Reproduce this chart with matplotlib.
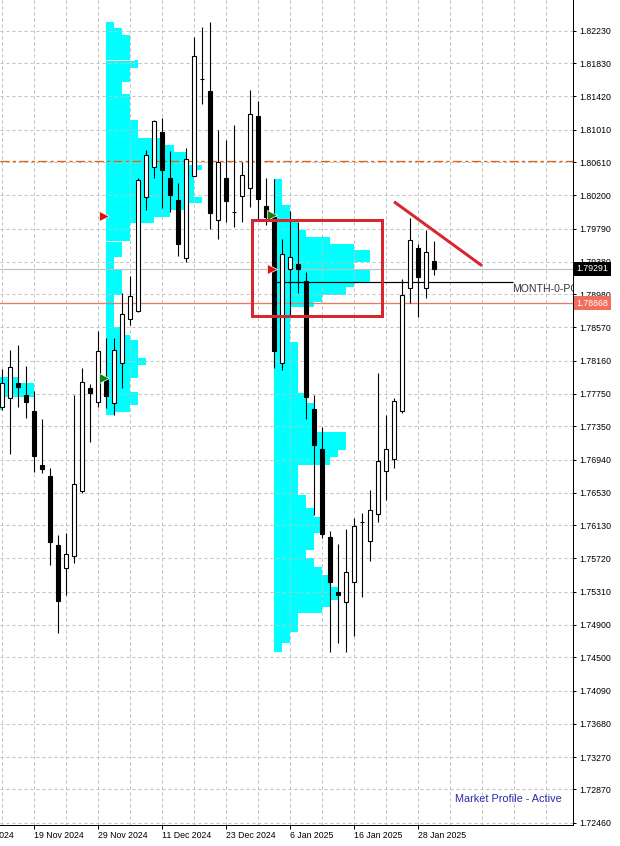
import matplotlib
matplotlib.use("Agg")
import matplotlib.pyplot as plt
import numpy as np
import pandas as pd

plt.rcParams['font.family'] = ['Liberation Sans', 'DejaVu Sans']

PX = 0.72  # one pixel in points at dpi 100

# daily bars 13 Nov 2024 .. 30 Jan 2025 (no bars on 25 Dec and 1 Jan)
dates = pd.bdate_range("2024-11-13", "2025-01-30")
dates = dates[~dates.isin(pd.to_datetime(["2024-12-25", "2025-01-01"]))]

opens = [1.77592, 1.77696, 1.77888, 1.77736, 1.77543, 1.76873, 1.76737, 1.75886, 1.75599, 1.75754,
         1.76556, 1.77819, 1.77654, 1.77934, 1.77634, 1.78127, 1.78670, 1.78776, 1.80183, 1.80553,
         1.80984, 1.80417, 1.80142, 1.79430, 1.80442, 1.81636, 1.81486, 1.79895, 1.80417, 1.79992,
         1.80195, 1.80286, 1.81178, 1.80068, 1.79936, 1.78127, 1.79287, 1.79349, 1.79143, 1.77564,
         1.77070, 1.75988, 1.75310, 1.75179, 1.75433, 1.76175, 1.75939, 1.76265, 1.76802, 1.76943,
         1.77543, 1.79053, 1.79553, 1.79053, 1.79389]
highs = [1.78053, 1.78291, 1.78353, 1.78094, 1.77789, 1.77437, 1.76832, 1.76009, 1.76038, 1.77736,
         1.78066, 1.77872, 1.78526, 1.78439, 1.78443, 1.78991, 1.79204, 1.80410, 1.80759, 1.81129,
         1.81150, 1.80746, 1.80348, 1.80780, 1.82156, 1.82280, 1.82334, 1.81005, 1.80882, 1.81067,
         1.80614, 1.81499, 1.81363, 1.80410, 1.80397, 1.79661, 1.80006, 1.79874, 1.79257, 1.77736,
         1.77345, 1.76062, 1.75898, 1.76080, 1.76223, 1.76284, 1.76564, 1.78011, 1.77490, 1.77696,
         1.79164, 1.79916, 1.79599, 1.79772, 1.79636]
lows = [1.77551, 1.77005, 1.77585, 1.77449, 1.76790, 1.76770, 1.75636, 1.74804, 1.75269, 1.75660,
        1.76527, 1.77160, 1.77592, 1.77576, 1.77490, 1.77819, 1.78600, 1.78764, 1.80018, 1.80417,
        1.80039, 1.79990, 1.79455, 1.79381, 1.80435, 1.81322, 1.79780, 1.79657, 1.79867, 1.79805,
        1.79867, 1.80052, 1.79907, 1.79833, 1.78066, 1.78045, 1.78723, 1.78998, 1.77437, 1.76256,
        1.75969, 1.74570, 1.74681, 1.74570, 1.74763, 1.75248, 1.75692, 1.76173, 1.76441, 1.76832,
        1.77518, 1.78875, 1.78702, 1.78929, 1.79217]
closes = [1.77881, 1.78078, 1.77831, 1.77654, 1.76988, 1.76820, 1.75927, 1.75199, 1.75775, 1.76638,
          1.77893, 1.77765, 1.78279, 1.77728, 1.78291, 1.78736, 1.78958, 1.80389, 1.80697, 1.81116,
          1.80512, 1.80204, 1.79599, 1.80648, 1.81918, 1.81632, 1.79985, 1.80614, 1.80133, 1.79988,
          1.80450, 1.81203, 1.80150, 1.79936, 1.78283, 1.79472, 1.79435, 1.79291, 1.77715, 1.77120,
          1.76022, 1.75433, 1.75269, 1.75557, 1.76120, 1.76171, 1.76318, 1.76922, 1.77070, 1.77662,
          1.78970, 1.79648, 1.79196, 1.79497, 1.79291]

# monthly market profiles: price row edges (top -> bottom) and TPO width in bars
nov_start = -8  # 1 Nov, left of the visible window
nov_edges = [1.77962, 1.77881, 1.77715, 1.77551]
nov_tpo = [10, 12, 8]

dec_start = "2024-12-02"
dec_edges = [1.82341, 1.82260, 1.82177, 1.81863, 1.81766, 1.81601, 1.81446, 1.81129, 1.80903, 1.80820,
             1.80738, 1.80574, 1.80512, 1.80183, 1.80105, 1.80018, 1.79936, 1.79854, 1.79640, 1.79442,
             1.79278, 1.79118, 1.78970, 1.78579, 1.78476, 1.78415, 1.78189, 1.78106, 1.77942, 1.77777,
             1.77613, 1.77530, 1.77490]
dec_tpo = [1, 2, 3, 4, 3, 2, 3, 4, 7, 8.5, 10, 12, 11, 12, 10, 8, 6, 3, 2, 1, 2, 2, 1, 2, 3, 4, 5, 4, 3, 4, 3, 1]
dec_va = [1.81863, 1.79640]

jan_start = "2025-01-02"
jan_edges = [1.80397, 1.80080, 1.79895, 1.79772, 1.79689, 1.79599, 1.79525, 1.79381, 1.79278, 1.79134,
             1.79065, 1.78970, 1.78887, 1.78826, 1.78394, 1.77757, 1.77634, 1.77284, 1.77058, 1.76975,
             1.76873, 1.76503, 1.76339, 1.76235, 1.76030, 1.75824, 1.75722, 1.75618, 1.75516, 1.75372,
             1.75207, 1.75125, 1.75043, 1.74816, 1.74673, 1.74570]
jan_tpo = [1, 2, 3, 4, 7, 10, 12, 10, 12, 10, 9, 6, 5, 2, 3, 4, 5, 9, 8, 7, 3, 4, 5, 6, 5, 4, 5, 6, 7, 8, 7, 6, 3, 2, 1]
jan_poc = 1.79126

# price scale
ytick_labels = ["1.82230", "1.81830", "1.81420", "1.81010", "1.80610", "1.80200", "1.79790", "1.79380",
                "1.78980", "1.78570", "1.78160", "1.77750", "1.77350", "1.76940", "1.76530", "1.76130",
                "1.75720", "1.75310", "1.74900", "1.74500", "1.74090", "1.73680", "1.73270", "1.72870",
                "1.72460"]
bid = 1.79291
level_line = 1.78868
dashdot_level = 1.80625

# drawings (bar index, price)
box_bars = [31.2, 47.5]
box_prices = [1.79895, 1.78711]
trend_bars = [49, 60]
trend_prices = [1.80121, 1.79331]
arrows_red = [(12.75, 1.79944), (33.75, 1.79291)]
arrows_green = [(12.75, 1.77946), (33.75, 1.79957)]

# ---------------------------------------------------------------------------
o = np.array(opens); h = np.array(highs); l = np.array(lows); c = np.array(closes)
x = np.arange(len(dates))
idx = {d.strftime("%Y-%m-%d"): i for i, d in enumerate(dates)}

fig = plt.figure(figsize=(6.2, 8.46), dpi=100)
ax = fig.add_axes([0, 21 / 846, 573 / 620, 825 / 846])
ax.set_xlim(-0.25, 71.375)
ax.set_ylim(1.72432, 1.82609)
ax.set_axisbelow(True)


def profile(start, edges, tpo):
    e = np.array(edges)
    ax.barh(e[1:], tpo, height=e[:-1] - e[1:], left=start, align='edge',
            color='#00ffff', linewidth=0, antialiased=False, zorder=0.2)


profile(nov_start, nov_edges, nov_tpo)
profile(idx[dec_start], dec_edges, dec_tpo)
profile(idx[jan_start], jan_edges, jan_tpo)
for v in dec_va:
    ax.hlines(v, idx[dec_start], idx[dec_start] + 3.5, color='white', lw=PX, zorder=0.3)

# horizontal levels
ax.axhline(dashdot_level, color='#e0601a', lw=1.3 * PX, ls=(0, (7, 2.5, 2.5, 2.5)), zorder=2)
ax.axhline(bid, color='#c0c0c0', lw=1.2 * PX, zorder=2)
ax.axhline(level_line, color='#f07860', lw=1.3 * PX, zorder=2)
ax.hlines(jan_poc, idx[jan_start], 63.85, color='black', lw=1.2 * PX, zorder=2)
ax.text(63.8, jan_poc - 0.00082, "MONTH-0-POC", fontsize=7.6, color='#333333',
        ha='left', va='center', clip_on=True, zorder=2)

# candles
up = c >= o
ax.vlines(x, l, h, color='black', lw=1.1 * PX, zorder=4)
ax.bar(x, np.abs(c - o), bottom=np.minimum(o, c), width=0.55,
       color=np.where(up, 'white', 'black'), edgecolor='black', linewidth=1.1 * PX, zorder=5)

# markers
for (mx, my) in arrows_red:
    ax.plot(mx, my, marker='>', ms=6.5, color='#e01010', mec='white', mew=0.5, zorder=6)
for (mx, my) in arrows_green:
    ax.plot(mx, my, marker='>', ms=6.5, color='#108010', mec='white', mew=0.5, zorder=6)

# red rectangle and trend line
ax.add_patch(plt.Rectangle((box_bars[0], box_prices[1]), box_bars[1] - box_bars[0],
                           box_prices[0] - box_prices[1],
                           fill=False, ec='#d8262e', lw=3 * PX, zorder=6))
ax.plot(trend_bars, trend_prices, color='#d8262e', lw=3 * PX, solid_capstyle='butt', zorder=6)

# axes cosmetics
for s in ['left', 'top']:
    ax.spines[s].set_visible(False)
for s in ['right', 'bottom']:
    ax.spines[s].set_linewidth(PX)

yvals = [float(t) for t in ytick_labels]
ax.yaxis.tick_right()
ax.set_yticks(yvals)
ax.set_yticklabels(ytick_labels)
ax.tick_params(axis='y', direction='out', length=3 * PX, width=PX, pad=3.5 * PX, labelsize=6.3)

major = [i for i in x if i % 8 == 4]
ax.set_xticks(major)
ax.set_xticklabels([f"{dates[i].day} {dates[i].strftime('%b %Y')}" for i in major])
for lbl in ax.get_xticklabels():
    lbl.set_ha('left')
ax.set_xticks(np.arange(0, 72, 4), minor=True)
ax.tick_params(axis='x', which='major', direction='out', length=4 * PX, width=PX, pad=2 * PX, labelsize=6.3)
ax.tick_params(axis='x', which='minor', length=0)

grid_kw = dict(color='#c0c0c0', lw=PX, ls=(0, (3, 3)))
ax.grid(True, axis='x', which='both', **grid_kw)
ax.grid(True, axis='y', which='major', **grid_kw)

# partial labels cut off by the window edge
ax.annotate("7 Nov 2024", xy=(-4, 0), xycoords=('data', 'axes fraction'),
            xytext=(-1 * PX, -6 * PX), textcoords='offset points', ha='left', va='top',
            fontsize=6.3, annotation_clip=False)
ax.annotate("1.82640", xy=(1, 1.82640), xycoords=('axes fraction', 'data'),
            xytext=(6.5 * PX, 0), textcoords='offset points', ha='left', va='center',
            fontsize=6.3, annotation_clip=False)

# price boxes on the scale
for price, fc in [(bid, 'black'), (level_line, '#f26e5a')]:
    ax.annotate(f"{price:.5f}", xy=(1, price), xycoords=('axes fraction', 'data'),
                xytext=(3.6 * PX, 0), textcoords='offset points', ha='left', va='center',
                fontsize=6.3, color='white', annotation_clip=False, zorder=10,
                bbox=dict(boxstyle='square,pad=0.3', fc=fc, ec='none'))

ax.text(562 / 573, 26 / 825, "Market Profile - Active", transform=ax.transAxes,
        ha='right', va='center', fontsize=7.8, color='#2a2aa8')

fig.savefig("out.png", dpi=100)
